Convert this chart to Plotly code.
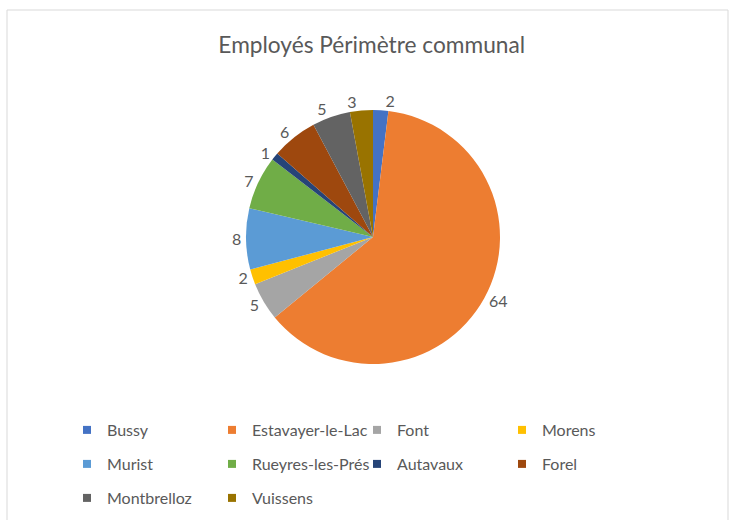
import plotly.graph_objects as go

# data
communes = ['Bussy', 'Estavayer-le-Lac', 'Font', 'Morens', 'Murist',
            'Rueyres-les-Prés', 'Autavaux', 'Forel', 'Montbrelloz', 'Vuissens']
employes = [2, 64, 5, 2, 8, 7, 1, 6, 5, 3]
couleurs = ['#4472C4', '#ED7D31', '#A5A5A5', '#FFC000', '#5B9BD5',
            '#70AD47', '#264478', '#9E480E', '#636363', '#997300']

W, H = 739, 520
txt_col = '#595959'
police = 'Lato'
dom = dict(x=[246 / W, 500 / W], y=[1 - 364 / H, 1 - 110 / H])

# Vuissens label goes on a second transparent pie so plotly doesn't push it
# away from the Montbrelloz one (and draw a leader line)
seul = 'Vuissens'
pos_a = ['none' if c == seul else 'outside' for c in communes]
pos_b = ['outside' if c == seul else 'none' for c in communes]

fig = go.Figure()

fig.add_trace(go.Pie(
    labels=communes, values=employes,
    marker=dict(colors=couleurs, line=dict(width=0)),
    sort=False, direction='clockwise', rotation=0,
    textinfo='value', textposition=pos_a,
    textfont=dict(size=16, color=txt_col, family=police),
    domain=dom, showlegend=False, hoverinfo='label+value',
))
fig.add_trace(go.Pie(
    labels=communes, values=employes,
    marker=dict(colors=['rgba(0,0,0,0)'] * len(communes), line=dict(width=0)),
    sort=False, direction='clockwise', rotation=0,
    textinfo='value', textposition=pos_b,
    textfont=dict(size=16, color=txt_col, family=police),
    domain=dom, showlegend=False, hoverinfo='skip',
))

# legend in 3 rows of 4 like the Excel one
rows = ['legend', 'legend2', 'legend3']
for i, (nom, c) in enumerate(zip(communes, couleurs)):
    fig.add_trace(go.Scatter(
        x=[None], y=[None], mode='markers', name=nom,
        marker=dict(symbol='square', size=8, color=c),
        legend=rows[i // 4], showlegend=True,
    ))

leg = dict(orientation='h', x=67 / W, xanchor='left', yanchor='middle',
           entrywidth=100, bgcolor='rgba(0,0,0,0)',
           font=dict(size=16, color=txt_col, family=police))

fig.update_layout(
    width=W, height=H,
    margin=dict(l=0, r=0, t=0, b=0),
    paper_bgcolor='white', plot_bgcolor='white',
    title=dict(text='Employés Périmètre communal', x=0.503, xanchor='center',
               y=1 - 45 / H, yanchor='middle',
               font=dict(size=22.7, color=txt_col, family=police)),
    xaxis=dict(visible=False), yaxis=dict(visible=False),
    legend=dict(leg, y=1 - 430 / H),
    legend2=dict(leg, y=1 - 464 / H),
    legend3=dict(leg, y=1 - 498 / H),
    shapes=[dict(type='rect', xref='paper', yref='paper',
                 x0=7 / W, x1=728 / W, y0=-0.1, y1=1 - 10 / H,
                 line=dict(color='#D9D9D9', width=1))],
)

fig.write_html("out.html", config={'displayModeBar': False},
               post_script="document.body.style.margin='0';")
